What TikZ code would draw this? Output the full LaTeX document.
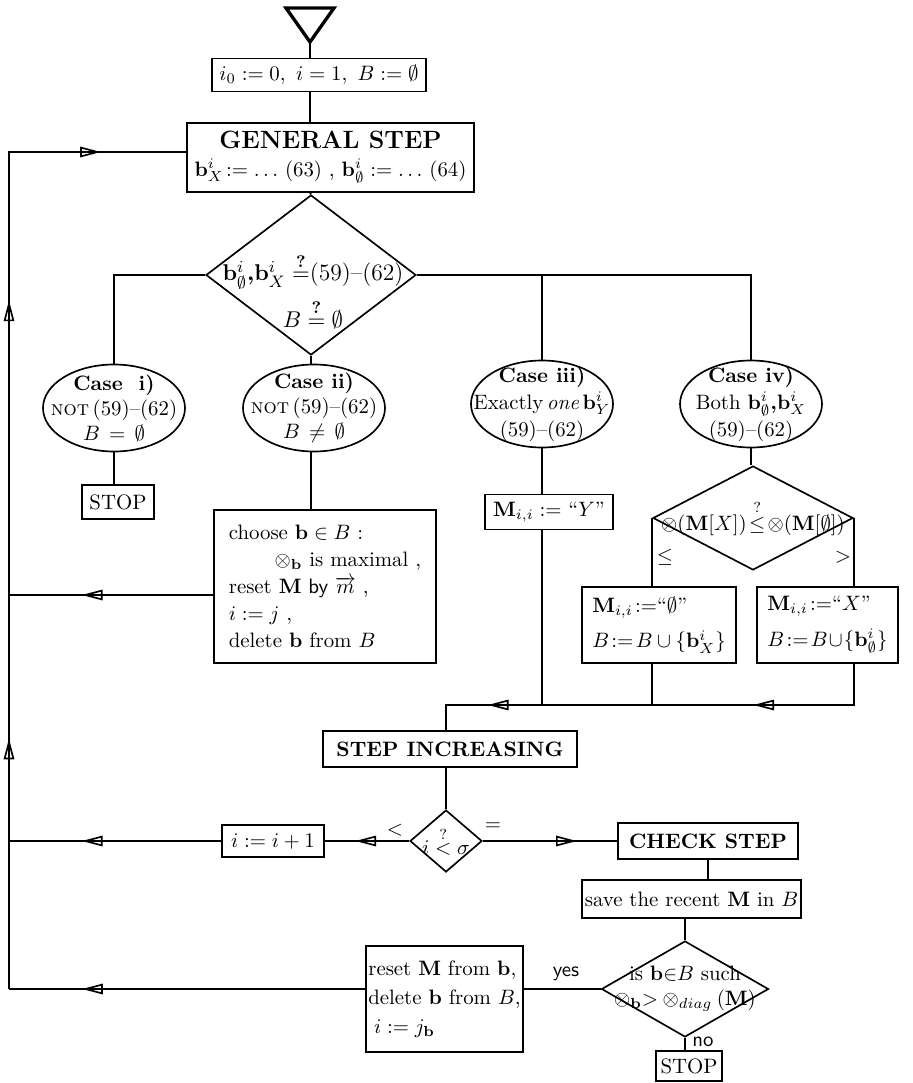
\documentclass[tikz,border=0pt]{standalone}
\usepackage{tikz}
\usetikzlibrary{arrows.meta,positioning,shapes.geometric,decorations.markings}
\usepackage{amsmath}
\usepackage{amssymb}
\newcommand{\pxu}{0.48pt}
\newcommand{\bb}{\mathbf{b}}
\newcommand{\MM}{\mathbf{M}}

\begin{document}
\begin{tikzpicture}[x=0.48pt, y=-0.48pt, line width=0.8pt,
  box/.style n args={2}{draw, rectangle, inner sep=0pt, minimum width=#1*\pxu, minimum height=#2*\pxu, align=center},
  case/.style={draw, ellipse, inner sep=-60pt, minimum width=142*\pxu, minimum height=87*\pxu, align=center},
  dia/.style n args={2}{draw, diamond, inner sep=-80pt, minimum width=#1*\pxu, minimum height=#2*\pxu, align=center},
  arr/.style={postaction={decorate, decoration={markings, mark=at position #1 with {\arrow{Triangle[open,length=10pt,width=5pt]}}}}},
  lbl/.style={inner sep=1pt}]
  \useasboundingbox (0,0) rectangle (912,1083);

  \coordinate (start) at (310,42);
  \draw[line width=1.6pt] (286,8) -- (334,8) -- (start) -- cycle;

  \node[box={214}{33}] (init) at (319,75) {$i_0 := 0,\ i = 1,\ B := \emptyset$};
  \node[box={287}{69}] (gen) at (330.5,157.5) {\large\textbf{GENERAL STEP}\\[1pt] $\bb^i_X\!:=\ldots$ (63) , $\bb^i_\emptyset :=\ldots$ (64)};
  \node[dia={210}{160}] (test) at (311,275) {};
  \node[align=center, font=\fontsize{11.3}{14}\selectfont] (testtxt) at (313,291) {$\bb^i_\emptyset\boldsymbol{,}\bb^i_X \overset{\boldsymbol{?}}{=}$(59)--(62)\\[4pt] $B \overset{\boldsymbol{?}}{=} \emptyset$};

  \node[case] (c1) at (114,408) {\textbf{Case\ \ i)}\\ \textsc{not}\,(59)--(62)\\ $B\,=\,\emptyset$};
  \node[case] (c2) at (314,408) {\textbf{Case ii)}\\ \textsc{not}\,(59)--(62)\\ $B\,\neq\,\emptyset$};
  \node[case] (c3) at (542,404) {\textbf{Case iii)}\\[1pt] Exactly\,\emph{one}\,$\bb^i_Y$\\[1pt] (59)--(62)};
  \node[case] (c4) at (751,404) {\textbf{Case iv)}\\[1pt] Both $\bb^i_\emptyset\boldsymbol{,}\bb^i_X$\\[1pt] (59)--(62)};

  \node[box={72}{34}] (stop1) at (118,502) {STOP};
  \node[box={222}{153}, align=left] (choose) at (325,586.5) {choose $\bb\in B$ :\\[1pt] \hspace{2.2em}$\otimes_{\bb}$ is maximal ,\\[1pt] reset $\MM$ \textsf{by} $\overrightarrow{m}$ ,\\[1pt] $i:=j$ ,\\[1pt] delete $\bb$ from $B$};
  \node[box={128}{35}] (my) at (549,512) {$\MM_{i,i} :=$ ``$Y$''};
  \node[dia={200}{104}] (cmp) at (753,518) {$\otimes(\MM[X])\!\overset{?}{\le}\!\otimes(\MM[\emptyset])$};
  \node[box={154}{76}, align=left] (mo) at (659,625) {$\MM_{i,i}\!:=$``$\emptyset$''\\[5pt] $B\!:=\!B\cup\{\bb^i_X\}$};
  \node[box={141}{76}, align=left] (mx) at (827.5,625) {$\MM_{i,i}\!:=$``$X$''\\[5pt] $B\!:=\!B\!\cup\!\{\bb^i_\emptyset\}$};
  \node[lbl] (le) at (665,557) {$\le$};
  \node[lbl] (gt) at (843,557) {$>$};

  \node[box={254}{36}] (inc) at (450,749) {\textbf{STEP INCREASING}};
  \node[dia={72}{62}] (lt) at (446,841) {$i\overset{?}{<}\sigma$};
  \node[box={102}{32}] (next) at (273,841) {$i := i+1$};
  \node[box={180}{36}] (check) at (708,841) {\textbf{CHECK STEP}};
  \node[lbl] (lts) at (395,830) {$<$};
  \node[lbl] (eqs) at (493,827) {$=$};
  \node[box={219}{38}] (save) at (691.5,899) {save the recent $\MM$ in $B$};
  \node[dia={167}{96}] (better) at (685,989) {is $\bb{\in}B$ such\\ $\otimes_{\bb}{>}\otimes_{diag}(\MM)$};
  \node[box={157}{106}, align=left] (reset) at (444.5,999) {reset $\MM$ from $\bb$,\\[2pt] delete $\bb$ from $B$,\\[2pt] $\;i := j_{\bb}$};
  \node[box={66}{30}] (stop2) at (689,1066) {STOP};
  \node[lbl] (yes) at (566,974) {\textsf{yes}};
  \node[lbl] (no) at (703,1042) {\textsf{no}};

  \draw (start) -- (start |- init.north);
  \draw (start |- init.south) -- (start |- gen.north);
  \draw (start |- gen.south) -- (test.north);
  \draw (c1.north) |- (test.west);
  \draw (test.east) -| (c4.north);
  \draw (c3.north) -- (c3.north |- test.east);
  \draw (test.south) -- (test.south |- c2.north);
  \draw (c1.south) -- (c1.south |- stop1.north);
  \draw (test.south |- c2.south) -- (test.south |- choose.north);
  \draw (c3.south) -- (c3.south |- my.north);
  \draw (c4.south) -- (c4.south |- cmp.north);
  \draw (cmp.west) -- (cmp.west |- mo.north);
  \draw (cmp.east) -- (cmp.east |- mx.north);

  \coordinate (join) at (446,705);
  \draw[arr=0.299, arr=0.859] (cmp.east |- mx.south) |- (join) -- (join |- inc.north);
  \draw (cmp.west |- mo.south) -- (cmp.west |- join);
  \draw (c3.south |- my.south) -- (c3.south |- join);
  \draw (lt.north |- inc.south) -- (lt.north);
  \draw[arr=0.64] (lt.west) -- (next.east);
  \draw[arr=0.7] (lt.east) -- (check.west);
  \draw (check.south) -- (check.south |- save.north);
  \draw (better.north |- save.south) -- (better.north);
  \draw (better.west) -- (better.west -| reset.east);
  \draw (better.south) -- (better.south |- stop2.north);

  \coordinate (lb) at (9,989);
  \coordinate (ltop) at (9,152);
  \coordinate (back) at (9,595);
  \draw[arr=0.795] (reset.west |- lb) -- (lb);
  \draw[arr=0.247, arr=0.679, arr=0.916] (lb) -- (ltop) -- (gen.west |- ltop);
  \draw[arr=0.644] (choose.west |- back) -- (back);
  \draw[arr=0.657] (next.west) -- (next.west -| lb);
\end{tikzpicture}
\end{document}
